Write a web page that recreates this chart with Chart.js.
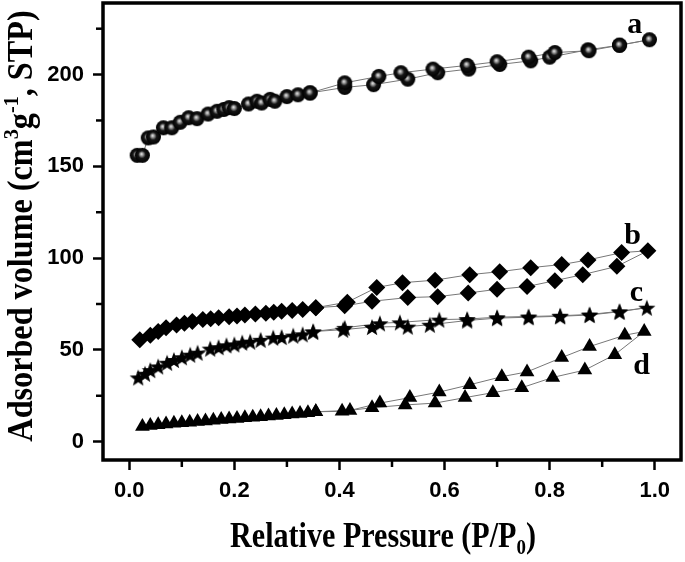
<!DOCTYPE html>
<html>
<head>
<meta charset="utf-8">
<script src="https://cdn.jsdelivr.net/npm/chart.js@4.4.0/dist/chart.umd.min.js"></script>
<style>
  html, body { margin: 0; padding: 0; background: #fff; }
</style>
</head>
<body>
<canvas id="myChart" width="685" height="562"></canvas>
<script>

// sample a (spheres)
var aAdsX = [0.015,0.025,0.036,0.046,0.065,0.081,0.097,0.113,0.129,0.15,0.167,0.18,0.19,0.2,0.227,0.243,0.252,0.268,0.277,0.30,0.321,0.344,0.41,0.465,0.53,0.587,0.646,0.705,0.764,0.80,0.873,0.933,0.99];
var aAdsY = [156,156,165.5,166,171,171,174,176.5,176,178.5,180,181,182,181.5,184,185.5,184.5,186.5,185.5,188,189,190,193,194.5,197.5,201,203,205.5,207.5,209.5,213.5,216,219];
var aDesX = [0.933,0.875,0.81,0.76,0.70,0.643,0.578,0.517,0.475,0.41,0.344];
var aDesY = [216,213,212,209.5,207,205,203,201,199,195.5,190];

// sample b (diamonds)
var bAdsX = [0.02,0.04,0.055,0.07,0.09,0.105,0.12,0.14,0.155,0.17,0.19,0.205,0.22,0.24,0.26,0.275,0.29,0.31,0.33,0.355,0.41,0.462,0.53,0.587,0.645,0.70,0.757,0.81,0.863,0.928,0.987];
var bAdsY = [55.5,58,60,62,63.5,64.5,65.5,66.5,67,67.5,68,68.5,69,69.5,70,70.5,71,71.5,72,73,74,76.5,78.5,79,81,83,84.5,87.7,91,95.5,104];
var bDesX = [0.937,0.873,0.823,0.764,0.705,0.648,0.582,0.52,0.471,0.415,0.355];
var bDesY = [103,99,96.5,94.8,92.6,91,88,86.6,84,76,73];

// sample c (stars)
var cAdsX = [0.017,0.03,0.04,0.055,0.072,0.085,0.1,0.116,0.13,0.154,0.17,0.185,0.2,0.215,0.23,0.25,0.274,0.29,0.312,0.33,0.35,0.407,0.462,0.53,0.572,0.643,0.70,0.76,0.82,0.876,0.933,0.985];
var cAdsY = [35,37,39,41,43,44.5,46,47.4,48.5,50.7,51.5,52.5,53,54,54.5,55.5,56.7,57,57.8,58.5,60,61,62.5,62.7,63.7,66,67.3,67.8,68.3,69,70.8,73];
var cDesX = [0.933,0.876,0.82,0.76,0.70,0.643,0.59,0.515,0.477,0.41,0.35];
var cDesY = [71,69.3,68.6,68.2,67.8,66.8,66.5,65,64.5,62,60];

// sample d (triangles)
var dAdsX = [0.025,0.04,0.055,0.07,0.085,0.1,0.115,0.13,0.145,0.16,0.175,0.19,0.205,0.22,0.235,0.25,0.265,0.28,0.295,0.31,0.325,0.34,0.355,0.405,0.462,0.525,0.582,0.639,0.692,0.747,0.806,0.867,0.924,0.98];
var dAdsY = [8.2,8.8,9.2,9.6,10,10.3,10.6,11,11.3,11.6,12,12.3,12.6,13,13.3,13.6,14,14.3,14.7,15,15.4,15.8,16.3,16.5,18.5,20,21,24,26.7,29.4,35,39,47.4,60];
var dDesX = [0.943,0.876,0.823,0.757,0.709,0.648,0.59,0.534,0.477,0.42,0.355];
var dDesY = [58,51.8,45.8,38,35.4,31,27,24,21,17,16.3];

// curve labels
var curveNames = ['a','b','c','d'];
var curveNameX = [0.962,0.958,0.965,0.975];
var curveNameY = [227,112,81,41];

// axis ticks
var xTicks = [0, 0.2, 0.4, 0.6, 0.8, 1.0];
var yTicks = [0, 50, 100, 150, 200];
var xMinorTicks = [0.1,0.3,0.5,0.7,0.9];
var yMinorTicks = [25,75,125,175,225];

function pts(xs, ys) {
  var out = [];
  for (var i = 0; i < xs.length; i++) out.push({x: xs[i], y: ys[i]});
  return out;
}

// sphere marker
function makeSphere(r) {
  var c = document.createElement('canvas');
  var s = Math.ceil(r * 2 + 2);
  c.width = s; c.height = s;
  var g = c.getContext('2d');
  var cx = s / 2, cy = s / 2;
  var grad = g.createRadialGradient(cx - 1, cy - 1.5, 0, cx, cy, r);
  grad.addColorStop(0, '#f0f0f0');
  grad.addColorStop(0.22, '#999');
  grad.addColorStop(0.5, '#151515');
  grad.addColorStop(1, '#000');
  g.fillStyle = grad;
  g.beginPath();
  g.arc(cx, cy, r, 0, Math.PI * 2);
  g.fill();
  return c;
}

// filled star marker
function makeStar(r) {
  var c = document.createElement('canvas');
  var s = Math.ceil(r * 2 + 2);
  c.width = s; c.height = s;
  var g = c.getContext('2d');
  var cx = s / 2, cy = s / 2 + 1;
  g.beginPath();
  for (var i = 0; i < 10; i++) {
    var rr = (i % 2 === 0) ? r : r * 0.42;
    var ang = -Math.PI / 2 + i * Math.PI / 5;
    var px = cx + rr * Math.cos(ang), py = cy + rr * Math.sin(ang);
    if (i === 0) g.moveTo(px, py); else g.lineTo(px, py);
  }
  g.closePath();
  g.fillStyle = '#000';
  g.fill();
  return c;
}

var sphere = makeSphere(7.5);
var star = makeStar(9);

var lineColor = '#777';

function ds(xs1, ys1, xs2, ys2, style, radius) {
  return {
    data: pts(xs1.concat(xs2), ys1.concat(ys2)),
    showLine: true,
    borderColor: lineColor,
    borderWidth: 1,
    pointStyle: style,
    pointRadius: radius,
    pointBackgroundColor: '#000',
    pointBorderColor: '#000',
    pointBorderWidth: 0,
    tension: 0
  };
}

// text with super/subscripts, centred on 0, baseline at 0
function richText(ctx, parts, size, hscale) {
  var total = 0;
  var items = parts.map(function (p) {
    var fs = p[1] === 0 ? size : Math.round(size * 0.62);
    ctx.font = 'bold ' + fs + 'px "Liberation Serif"';
    var w = ctx.measureText(p[0]).width;
    total += w;
    return {t: p[0], fs: fs, w: w, kind: p[1]};
  });
  ctx.scale(hscale, 1);
  var x = -total / 2;
  items.forEach(function (it) {
    ctx.font = 'bold ' + it.fs + 'px "Liberation Serif"';
    var dy = it.kind === 1 ? -size * 0.4 : (it.kind === 2 ? size * 0.2 : 0);
    ctx.fillText(it.t, x, dy);
    x += it.w;
  });
}

var decor = {
  id: 'decor',
  afterDraw: function (chart) {
    var ctx = chart.ctx;
    var ca = chart.chartArea;
    var xs = chart.scales.x, ys = chart.scales.y;
    ctx.save();
    ctx.strokeStyle = '#000';
    ctx.fillStyle = '#000';

    // minor ticks
    ctx.lineWidth = 2.5;
    xMinorTicks.forEach(function (v) {
      var px = xs.getPixelForValue(v);
      ctx.beginPath(); ctx.moveTo(px, ca.bottom); ctx.lineTo(px, ca.bottom + 7); ctx.stroke();
    });
    yMinorTicks.forEach(function (v) {
      var py = ys.getPixelForValue(v);
      ctx.beginPath(); ctx.moveTo(ca.left, py); ctx.lineTo(ca.left - 7, py); ctx.stroke();
    });

    // frame
    ctx.lineWidth = 3.5;
    ctx.strokeRect(ca.left, ca.top, ca.right - ca.left, ca.bottom - ca.top);

    // curve labels
    ctx.font = 'bold 30px "Liberation Serif"';
    ctx.textAlign = 'center';
    ctx.textBaseline = 'middle';
    for (var i = 0; i < curveNames.length; i++) {
      ctx.fillText(curveNames[i], xs.getPixelForValue(curveNameX[i]), ys.getPixelForValue(curveNameY[i]));
    }

    // axis titles
    ctx.textAlign = 'left';
    ctx.textBaseline = 'alphabetic';
    ctx.save();
    ctx.translate(383, 547);
    richText(ctx, [['Relative Pressure (P/P', 0], ['0', 2], [')', 0]], 35, 0.86);
    ctx.restore();

    ctx.save();
    ctx.translate(32, 226);
    ctx.rotate(-Math.PI / 2);
    richText(ctx, [['Adsorbed volume (cm', 0], ['3', 1], ['g', 0], ['-1', 1], [', STP)', 0]], 35, 0.92);
    ctx.restore();

    ctx.restore();
  }
};

var tickFont = {family: '"Liberation Sans", Arial, sans-serif', weight: 'bold', size: 22};

function setTicks(list) {
  return function (scale) {
    scale.ticks = list.map(function (v) { return {value: v}; });
  };
}

var canvas = document.getElementById('myChart');
var ctx = canvas.getContext('2d');

var chart = new Chart(ctx, {
  type: 'scatter',
  data: {
    datasets: [
      ds(aAdsX, aAdsY, aDesX, aDesY, sphere, 7.5),
      ds(bAdsX, bAdsY, bDesX, bDesY, 'rectRot', 8.5),
      ds(cAdsX, cAdsY, cDesX, cDesY, star, 9),
      ds(dAdsX, dAdsY, dDesX, dDesY, 'triangle', 8.5)
    ]
  },
  options: {
    responsive: false,
    animation: false,
    devicePixelRatio: 1,
    layout: { autoPadding: false, padding: { top: 3, right: 4, left: 0, bottom: 0 } },
    plugins: { legend: { display: false }, tooltip: { enabled: false } },
    scales: {
      x: {
        type: 'linear',
        position: 'bottom',
        min: -0.05,
        max: 1.05,
        afterBuildTicks: setTicks(xTicks),
        afterFit: function (s) { s.height = 102; s.paddingLeft = 0; s.paddingRight = 0; },
        border: { display: false },
        grid: { drawOnChartArea: false, drawTicks: true, tickLength: 10, tickWidth: 2.5, tickColor: '#000' },
        ticks: {
          color: '#000',
          font: tickFont,
          padding: 8,
          maxRotation: 0,
          autoSkip: false,
          callback: function (v) { return v.toFixed(1); }
        }
      },
      y: {
        type: 'linear',
        min: -10,
        max: 239,
        afterBuildTicks: setTicks(yTicks),
        afterFit: function (s) { s.width = 103; s.paddingTop = 0; s.paddingBottom = 0; },
        border: { display: false },
        grid: { drawOnChartArea: false, drawTicks: true, tickLength: 10, tickWidth: 2.5, tickColor: '#000' },
        ticks: {
          color: '#000',
          font: tickFont,
          padding: 9,
          autoSkip: false
        }
      }
    }
  },
  plugins: [decor]
});

</script>
</body>
</html>
